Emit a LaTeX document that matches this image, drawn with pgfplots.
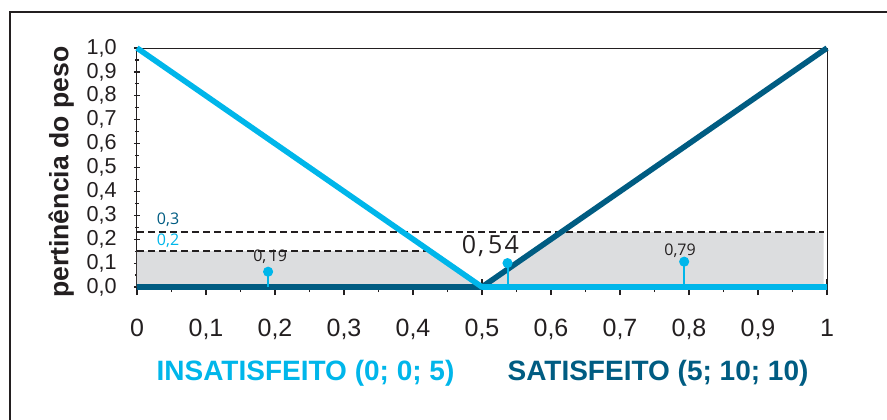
\documentclass[border=0pt]{standalone}
\usepackage{pgfplots}
\pgfplotsset{compat=1.18}
\usepackage{fontspec}
\setmainfont{Liberation Sans}
\newfontfamily\labelfont{Open Sans}
\definecolor{cyanc}{RGB}{0,182,234}
\definecolor{darkc}{RGB}{0,92,130}
\definecolor{grayfill}{RGB}{220,221,223}
\definecolor{ink}{RGB}{35,31,32}
\begin{document}
\begin{tikzpicture}
\useasboundingbox (-68.5pt,-66pt) rectangle (375pt,143.5pt);
\draw[ink, line width=1.2pt] (-63.5pt,-80pt) -- (-63.5pt,137.5pt) -- (390pt,137.5pt);
\begin{axis}[
 at={(0pt,0pt)}, anchor=south west,
 scale only axis, width=345pt, height=119.5pt,
 xmin=0, xmax=1, ymin=0, ymax=1,
 clip=false,
 axis line style={ink, line width=0.5pt},
 tick style={ink, line width=0.6pt},
 tick align=center,
 xtick pos=bottom, ytick pos=left,
 major tick length=3pt, minor tick length=2pt,
 xtick style={/pgfplots/major tick length=8pt,/pgfplots/minor tick length=5pt},
 xtick={0,0.1,0.2,0.3,0.4,0.5,0.6,0.7,0.8,0.9,1},
 xticklabels={0,{0,1},{0,2},{0,3},{0,4},{0,5},{0,6},{0,7},{0,8},{0,9},1},
 ytick={0,0.1,0.2,0.3,0.4,0.5,0.6,0.7,0.8,0.9,1},
 yticklabels={{0,0},{0,1},{0,2},{0,3},{0,4},{0,5},{0,6},{0,7},{0,8},{0,9},{1,0}},
 minor x tick num=1, minor y tick num=1,
 xticklabel style={font=\fontsize{12.5}{14}\selectfont, text=ink, inner sep=0pt, anchor=north, yshift=-14.5pt},
 yticklabel style={font=\fontsize{10.8}{12}\selectfont, text=ink, inner sep=0pt, anchor=east, xshift=-8.5pt},
 ylabel={pertinência do peso},
 ylabel style={font=\bfseries\fontsize{13.3}{15}\selectfont, text=ink, at={(axis description cs:-0.11,0.48)}, anchor=center},
]
% gray regions
\addplot[fill=grayfill, draw=none] coordinates {(0,0.15) (0.425,0.15) (0.5,0)} \closedcycle;
\addplot[fill=grayfill, draw=none] coordinates {(0.5,0) (0.615,0.23) (0.995,0.23) (0.995,0)} \closedcycle;
% dashed cut lines
\addplot[ink, line width=0.9pt, dash pattern=on 3.5pt off 2pt] coordinates {(0,0.15) (0.425,0.15)};
\addplot[ink, line width=0.9pt, dash pattern=on 3.5pt off 2pt] coordinates {(0,0.23) (0.995,0.23)};
% membership functions
\addplot[darkc, line width=2.8pt, line join=round] coordinates {(0,0) (0.5,0) (1,1)};
\addplot[cyanc, line width=2.8pt, line join=round] coordinates {(0,1) (0.5,0) (1,0)};
% stems
\addplot[cyanc, ycomb, line width=1pt, mark=*, mark size=2pt, mark options={fill=cyanc, draw=cyanc}] coordinates {(0.19,0.064) (0.537,0.1) (0.793,0.106)};
% labels
\node[font=\labelfont\fontsize{8}{9}\selectfont, text=ink] at (axis cs:0.193,0.127) {0,\kern1.2pt19};
\node[font=\labelfont\fontsize{8}{9}\selectfont, text=ink] at (axis cs:0.787,0.152) {0,79};
\node[font=\labelfont\fontsize{12.5}{14}\selectfont, text=ink] at (axis cs:0.512,0.172) {0\kern1pt,\kern2pt5\kern1pt4};
\node[font=\labelfont\fontsize{8}{9}\selectfont, text=darkc] at (axis cs:0.045,0.28) {0,3};
\node[font=\labelfont\fontsize{8}{9}\selectfont, text=cyanc] at (axis cs:0.045,0.194) {0,2};
\end{axis}
\node[anchor=base, font=\bfseries\fontsize{14}{16}\selectfont, text=cyanc] at (84.25pt,-46.85pt) {INSATISFEITO (0; 0; 5)};
\node[anchor=base, font=\bfseries\fontsize{14}{16}\selectfont, text=darkc] at (260.5pt,-46.85pt) {SATISFEITO (5; 10; 10)};
\end{tikzpicture}
\end{document}
